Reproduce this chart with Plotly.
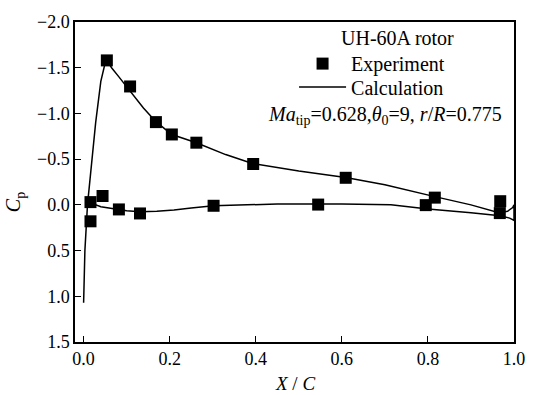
import plotly.graph_objects as go

# Experiment data (X/C, Cp)
exp_x = [0.054, 0.108, 0.168, 0.205, 0.262, 0.394, 0.609, 0.816, 0.968,
         0.016, 0.016, 0.044, 0.082, 0.131, 0.302, 0.545, 0.795, 0.967]
exp_y = [-1.58, -1.295, -0.905, -0.77, -0.68, -0.447, -0.296, -0.079, -0.04,
         -0.03, 0.18, -0.097, 0.05, 0.094, 0.01, -0.003, 0.003, 0.09]

# Calculation curve (stagnation -> upper surface -> TE -> lower surface -> LE)
calc_x = [0.0, 0.003, 0.009, 0.018, 0.028, 0.04, 0.05, 0.054, 0.065, 0.082,
          0.108, 0.139, 0.168, 0.205, 0.262, 0.33, 0.394, 0.5, 0.609, 0.7,
          0.816, 0.9, 0.965, 0.985, 0.997, 1.0,
          1.0, 0.99, 0.968, 0.9, 0.8, 0.714, 0.6, 0.545, 0.45, 0.38, 0.302,
          0.25, 0.21, 0.17, 0.131, 0.1, 0.082, 0.06, 0.04, 0.021, 0.012, 0.008]
calc_y = [1.07, 0.5, 0.0, -0.45, -0.9, -1.35, -1.55, -1.58, -1.50, -1.40,
          -1.25, -1.06, -0.91, -0.77, -0.68, -0.55, -0.45, -0.37, -0.30, -0.22,
          -0.09, 0.0, 0.085, 0.07, 0.03, 0.0,
          0.17, 0.145, 0.12, 0.085, 0.045, 0.0, -0.01, -0.01, -0.01, 0.0, 0.01,
          0.035, 0.057, 0.07, 0.076, 0.065, 0.05, 0.035, 0.02, -0.014, -0.045, -0.06]

x_ticks = [0.0, 0.2, 0.4, 0.6, 0.8, 1.0]
y_ticks = [-2.0, -1.5, -1.0, -0.5, 0.0, 0.5, 1.0, 1.5]

FONT = "Liberation Serif"
BLACK = "black"

fig = go.Figure()
fig.add_trace(go.Scatter(
    x=exp_x, y=exp_y, mode="markers", name="Experiment", legend="legend",
    marker=dict(symbol="square", size=12, color=BLACK),
))
fig.add_trace(go.Scatter(
    x=calc_x, y=calc_y, mode="lines", name="Calculation", legend="legend2",
    line=dict(color=BLACK, width=1.5),
))

axis_common = dict(
    showline=True, linecolor=BLACK, linewidth=1.5, mirror=True,
    ticks="inside", ticklen=6, tickwidth=1.3, tickcolor=BLACK,
    showgrid=False, zeroline=False,
    tickfont=dict(family=FONT, size=18, color=BLACK),
)

legend_common = dict(
    xanchor="left", yanchor="middle",
    bgcolor="rgba(0,0,0,0)",
    font=dict(family=FONT, size=20, color=BLACK),
    itemwidth=47,
)

fig.update_layout(
    width=537, height=395,
    margin=dict(l=75, r=14, t=18, b=53),
    paper_bgcolor="white", plot_bgcolor="white",
    font=dict(family=FONT, size=18, color=BLACK),
    xaxis=dict(range=[-0.02, 1.0], tickvals=x_ticks, tickformat=".1f", **axis_common),
    yaxis=dict(range=[1.5, -2.0], tickvals=y_ticks, tickformat=".1f", **axis_common),
    legend=dict(x=0.499, y=0.870, **legend_common),
    legend2=dict(x=0.499, y=0.797, **legend_common),
    showlegend=True,
)

# axis titles
fig.add_annotation(xref="paper", yref="paper", x=0.5, y=-0.1296,
                   xanchor="center", yanchor="middle", showarrow=False,
                   text="<i>X</i> / <i>C</i>", font=dict(family=FONT, size=19, color=BLACK))
fig.add_annotation(xref="paper", yref="paper", x=-0.136, y=0.438,
                   xanchor="center", yanchor="middle", showarrow=False, textangle=-90,
                   text="<i>C</i><sub>p</sub>", font=dict(family=FONT, size=20, color=BLACK))

# legend header and condition line
fig.add_annotation(xref="paper", yref="paper", x=0.734, y=0.950,
                   xanchor="center", yanchor="middle", showarrow=False,
                   text="UH-60A rotor", font=dict(family=FONT, size=20, color=BLACK))
fig.add_annotation(
    xref="paper", yref="paper", x=0.978, y=0.707, xanchor="right", yanchor="middle",
    text="<i>Ma</i><sub>tip</sub>=0.628,<i>θ</i><sub>0</sub>=9, <i>r</i>/<i>R</i>=0.775",
    showarrow=False, font=dict(family=FONT, size=20, color=BLACK),
)

fig.write_html("out.html")
